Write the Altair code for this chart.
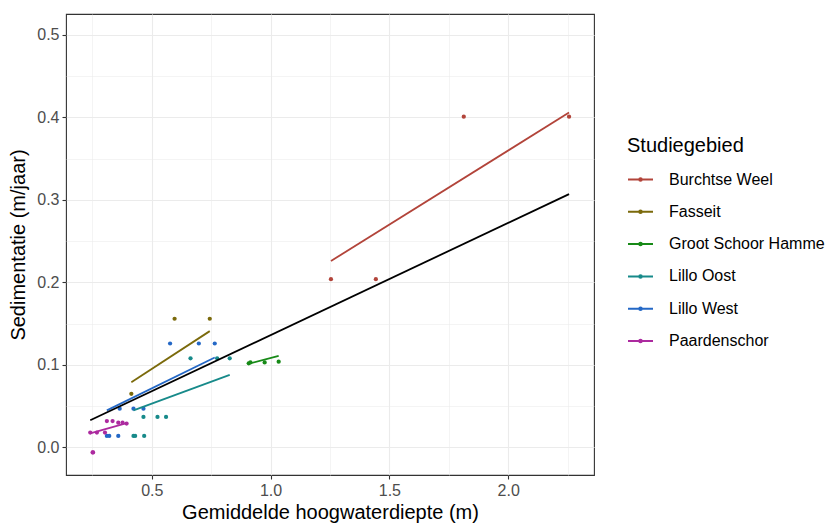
import altair as alt
import pandas as pd

# ---------------- data ----------------
groups = ["Burchtse Weel", "Fasseit", "Groot Schoor Hamme",
          "Lillo Oost", "Lillo West", "Paardenschor"]
colors = ["#B2443A", "#7B6A0B", "#178A17", "#178A8A", "#2468C6", "#AC2A9F"]

burchtse_x = [1.254, 1.443, 1.813, 2.256]
burchtse_y = [0.204, 0.204, 0.401, 0.401]

fasseit_x = [0.414, 0.596, 0.744]
fasseit_y = [0.065, 0.156, 0.156]

groot_x = [0.908, 0.915, 0.975, 1.034]
groot_y = [0.102, 0.103, 0.103, 0.104]

oost_x = [0.423, 0.430, 0.465, 0.468, 0.524, 0.560, 0.663, 0.775, 0.828]
oost_y = [0.014, 0.014, 0.037, 0.014, 0.037, 0.037, 0.108, 0.108, 0.108]

west_x = [0.311, 0.321, 0.359, 0.365, 0.423, 0.465, 0.577, 0.698, 0.765]
west_y = [0.014, 0.014, 0.014, 0.047, 0.047, 0.047, 0.126, 0.126, 0.126]

paarden_x = [0.241, 0.251, 0.253, 0.269, 0.303, 0.311, 0.335, 0.359, 0.377, 0.394]
paarden_y = [0.018, -0.006, -0.006, 0.018, 0.018, 0.032, 0.032, 0.030, 0.030, 0.029]

# fitted linear trends per area (start / end values)
fit_x_start = [1.254, 0.414, 0.908, 0.423, 0.311, 0.241]
fit_x_end = [2.256, 0.744, 1.034, 0.828, 0.765, 0.394]
fit_y_start = [0.226, 0.079, 0.1015, 0.045, 0.045, 0.017]
fit_y_end = [0.406, 0.141, 0.111, 0.088, 0.109, 0.0295]

# overall trend
overall_x = [0.241, 2.256]
overall_y = [0.033, 0.307]

# axis ticks (major + minor grid positions)
x_ticks = [0.25, 0.5, 0.75, 1.0, 1.25, 1.5, 1.75, 2.0, 2.25]
y_ticks = [0.0, 0.05, 0.1, 0.15, 0.2, 0.25, 0.3, 0.35, 0.4, 0.45, 0.5]

# ---------------- tables ----------------
point_sets = [(burchtse_x, burchtse_y), (fasseit_x, fasseit_y), (groot_x, groot_y),
              (oost_x, oost_y), (west_x, west_y), (paarden_x, paarden_y)]
rows = []
for g, (xs, ys) in zip(groups, point_sets):
    for xv, yv in zip(xs, ys):
        rows.append({"group": g, "x": xv, "y": yv})
points = pd.DataFrame(rows)

fit_rows = []
for g, x0, x1, y0, y1 in zip(groups, fit_x_start, fit_x_end, fit_y_start, fit_y_end):
    fit_rows.append({"group": g, "x": x0, "y": y0})
    fit_rows.append({"group": g, "x": x1, "y": y1})
fits = pd.DataFrame(fit_rows)

overall = pd.DataFrame({"x": overall_x, "y": overall_y})

# ---------------- styling ----------------
FONT = "Liberation Sans"
GRID = "#EBEBEB"
DARK = "#333333"

x_major = "abs(datum.value*2 - round(datum.value*2)) < 0.001"
y_major = "abs(datum.value*10 - round(datum.value*10)) < 0.001"

x_axis = alt.Axis(
    values=x_ticks,
    labelExpr=f"({x_major}) ? format(datum.value, '.1f') : ''",
    gridColor=GRID,
    gridWidth={"condition": {"test": x_major, "value": 1.1}, "value": 0.55},
    tickColor={"condition": {"test": x_major, "value": DARK}, "value": "transparent"},
    tickSize=4, tickWidth=1.1, domain=False,
    labelFont=FONT, labelFontSize=16, labelColor="#4D4D4D", labelPadding=3,
    titleFont=FONT, titleFontSize=20, titleFontWeight="normal", titleColor="black",
    titlePadding=4,
)
y_axis = alt.Axis(
    values=y_ticks,
    labelExpr=f"({y_major}) ? format(datum.value, '.1f') : ''",
    gridColor=GRID,
    gridWidth={"condition": {"test": y_major, "value": 1.1}, "value": 0.55},
    tickColor={"condition": {"test": y_major, "value": DARK}, "value": "transparent"},
    tickSize=4, tickWidth=1.1, domain=False,
    labelFont=FONT, labelFontSize=16, labelColor="#4D4D4D", labelPadding=3,
    titleFont=FONT, titleFontSize=20, titleFontWeight="normal", titleColor="black",
    titlePadding=8,
)

x_scale = alt.Scale(domain=[0.139, 2.361], nice=False, zero=False)
y_scale = alt.Scale(domain=[-0.0334, 0.5254], nice=False, zero=False)
color_scale = alt.Scale(domain=groups, range=colors)

legend = alt.Legend(
    title="Studiegebied", orient="none", legendX=561, legendY=122,
    symbolType="M-1,0L1,0M-0.1,0a0.1,0.1 0 1,0 0.2,0a0.1,0.1 0 1,0 -0.2,0",
    symbolSize=625, symbolStrokeWidth=2,
    titleFont=FONT, titleFontSize=20, titleFontWeight="normal", titleColor="black",
    labelFont=FONT, labelFontSize=16, labelColor="black",
    labelOffset=15, rowPadding=10.3, titlePadding=10, padding=0,
)

X = alt.X("x:Q", scale=x_scale, axis=x_axis, title="Gemiddelde hoogwaterdiepte (m)")
Y = alt.Y("y:Q", scale=y_scale, axis=y_axis, title="Sedimentatie (m/jaar)")
C = alt.Color("group:N", scale=color_scale, legend=legend)

pts_layer = alt.Chart(points).mark_circle(size=18, opacity=1).encode(
    x=X, y=Y, color=C
)
fit_layer = alt.Chart(fits).mark_line(strokeWidth=1.8).encode(
    x=X, y=Y, color=C
)
overall_layer = alt.Chart(overall).mark_line(strokeWidth=1.8, color="black").encode(
    x=X, y=Y
)

chart = alt.layer(pts_layer, fit_layer, overall_layer).properties(
    width=528, height=461,
    autosize=alt.AutoSizeParams(type="none"),
    padding={"left": 66, "top": 14, "right": 234, "bottom": 49},
    background="white",
).configure_view(stroke=DARK, strokeWidth=1.1)

chart.save("out.html", embed_options={"renderer": "svg", "actions": False})
